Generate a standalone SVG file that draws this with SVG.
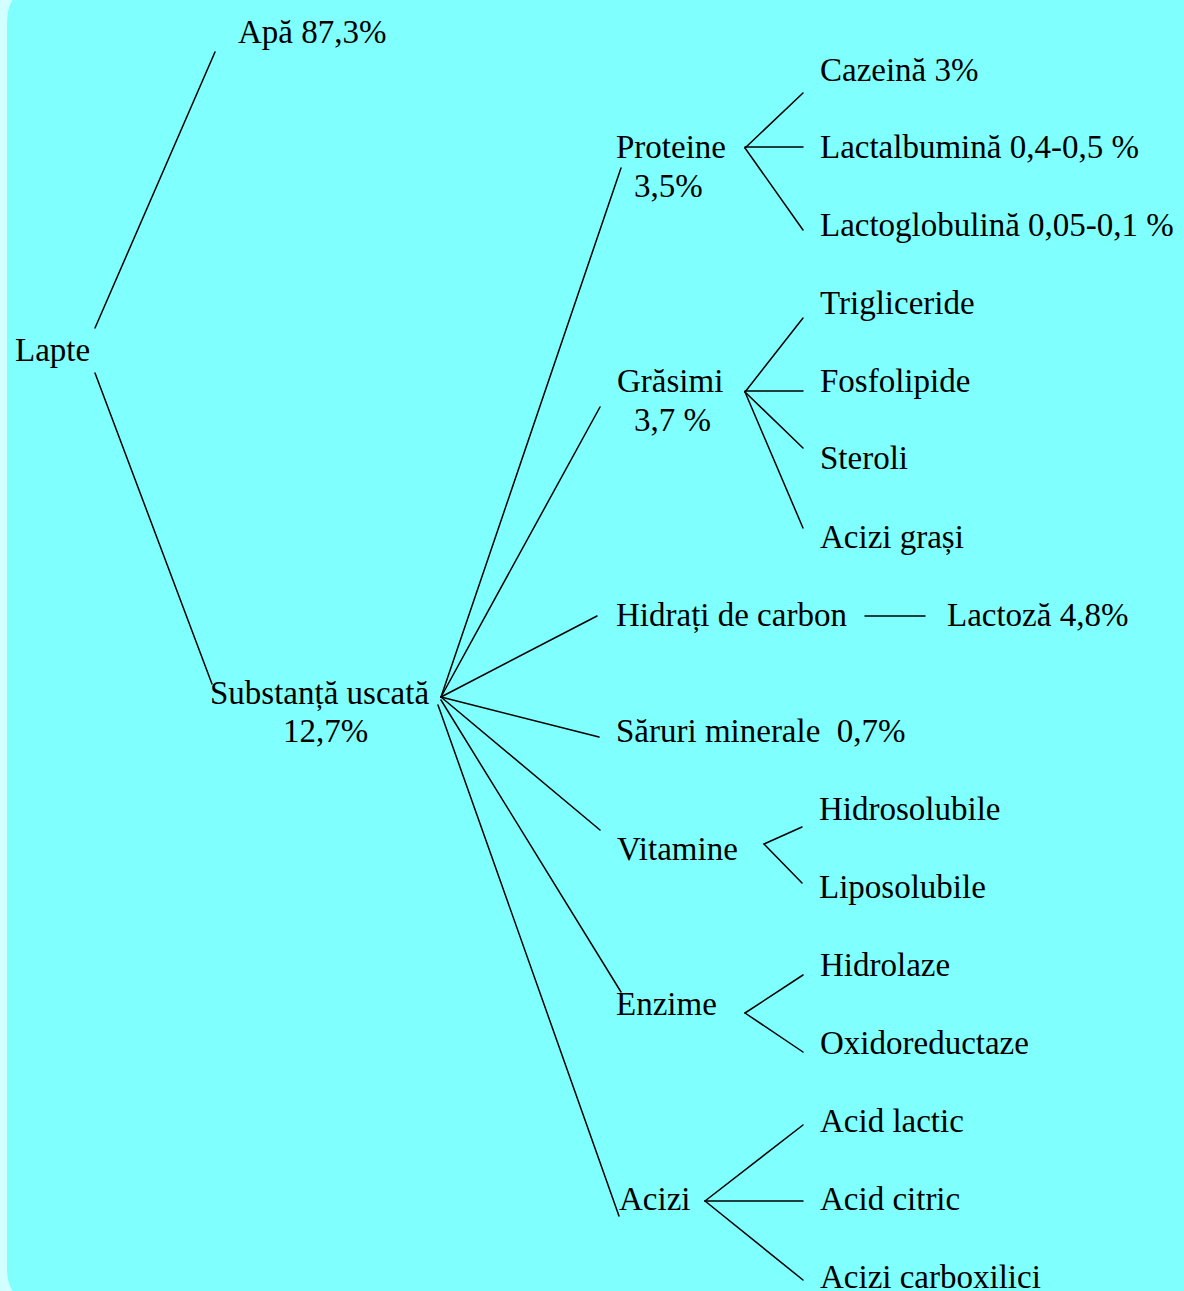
<svg xmlns="http://www.w3.org/2000/svg" width="1184" height="1291" viewBox="0 0 1184 1291">
  <style>
    .t { font-family: "Liberation Serif", "Times New Roman", serif; font-size: 33px; fill: #000; }
    .c line { stroke: #000; stroke-width: 1.5; stroke-linecap: round; }
  </style>
  <rect x="0" y="0" width="1184" height="1291" fill="#d2ffff"/>
  <rect x="7" y="-20" width="1220" height="1331" rx="40" ry="40" fill="#80ffff"/>

  <!-- connectors -->
  <g class="c" id="connectors">
    <line x1="95" y1="328" x2="215" y2="52"/>
    <line x1="95" y1="373" x2="212" y2="684"/>
    <!-- dry matter fan -->
    <line x1="441" y1="697" x2="621" y2="168"/>
    <line x1="441" y1="697" x2="600" y2="407"/>
    <line x1="441" y1="697" x2="597" y2="616"/>
    <line x1="441" y1="697" x2="599" y2="737"/>
    <line x1="441" y1="697" x2="600" y2="830"/>
    <line x1="441" y1="700" x2="621" y2="992"/>
    <line x1="438" y1="705" x2="619" y2="1216"/>
    <!-- proteins -->
    <line x1="745" y1="148" x2="803" y2="93"/>
    <line x1="745" y1="147" x2="803" y2="147"/>
    <line x1="745" y1="148" x2="803" y2="230"/>
    <!-- fats -->
    <line x1="745" y1="392" x2="803" y2="318"/>
    <line x1="745" y1="391" x2="803" y2="391"/>
    <line x1="745" y1="392" x2="803" y2="448"/>
    <line x1="745" y1="392" x2="803" y2="528"/>
    <!-- carbohydrates -->
    <line x1="865" y1="616" x2="925" y2="616"/>
    <!-- vitamins -->
    <line x1="764" y1="844" x2="802" y2="827"/>
    <line x1="764" y1="844" x2="802" y2="883"/>
    <!-- enzymes -->
    <line x1="745" y1="1013" x2="803" y2="975"/>
    <line x1="745" y1="1013" x2="803" y2="1052"/>
    <!-- acids -->
    <line x1="705" y1="1201" x2="803" y2="1125"/>
    <line x1="705" y1="1201" x2="803" y2="1201"/>
    <line x1="705" y1="1201" x2="803" y2="1280"/>
  </g>

  <g id="lapte"><text class="t" x="15" y="361">Lapte</text></g>
  <g id="apa"><text class="t" x="238" y="43">Apă 87,3%</text></g>
  <g id="substanta"><text class="t" x="210" y="704">Substanță uscată</text><text class="t" x="283" y="742">12,7%</text></g>

  <g id="proteine"><text class="t" x="616" y="158">Proteine</text><text class="t" x="634" y="197">3,5%</text></g>
  <g id="cazeina"><text class="t" x="820" y="81">Cazeină 3%</text></g>
  <g id="lactalbumina"><text class="t" x="820" y="158">Lactalbumină 0,4-0,5 %</text></g>
  <g id="lactoglobulina"><text class="t" x="820" y="236">Lactoglobulină 0,05-0,1 %</text></g>

  <g id="grasimi"><text class="t" x="617" y="392">Grăsimi</text><text class="t" x="634" y="431">3,7 %</text></g>
  <g id="trigliceride"><text class="t" x="820" y="314">Trigliceride</text></g>
  <g id="fosfolipide"><text class="t" x="820" y="392">Fosfolipide</text></g>
  <g id="steroli"><text class="t" x="820" y="469">Steroli</text></g>
  <g id="acizi-grasi"><text class="t" x="820" y="548">Acizi grași</text></g>

  <g id="hidrati"><text class="t" x="616" y="626">Hidrați de carbon</text></g>
  <g id="lactoza"><text class="t" x="947" y="626">Lactoză 4,8%</text></g>

  <g id="saruri"><text class="t" x="616" y="742" xml:space="preserve">Săruri minerale  0,7%</text></g>

  <g id="vitamine"><text class="t" x="617" y="860">Vitamine</text></g>
  <g id="hidrosolubile"><text class="t" x="819" y="820">Hidrosolubile</text></g>
  <g id="liposolubile"><text class="t" x="819" y="898">Liposolubile</text></g>

  <g id="enzime"><text class="t" x="616" y="1015">Enzime</text></g>
  <g id="hidrolaze"><text class="t" x="820" y="976">Hidrolaze</text></g>
  <g id="oxidoreductaze"><text class="t" x="820" y="1054">Oxidoreductaze</text></g>

  <g id="acizi"><text class="t" x="619" y="1210">Acizi</text></g>
  <g id="acid-lactic"><text class="t" x="820" y="1132">Acid lactic</text></g>
  <g id="acid-citric"><text class="t" x="820" y="1210">Acid citric</text></g>
  <g id="acizi-carboxilici"><text class="t" x="820" y="1288">Acizi carboxilici</text></g>
</svg>
